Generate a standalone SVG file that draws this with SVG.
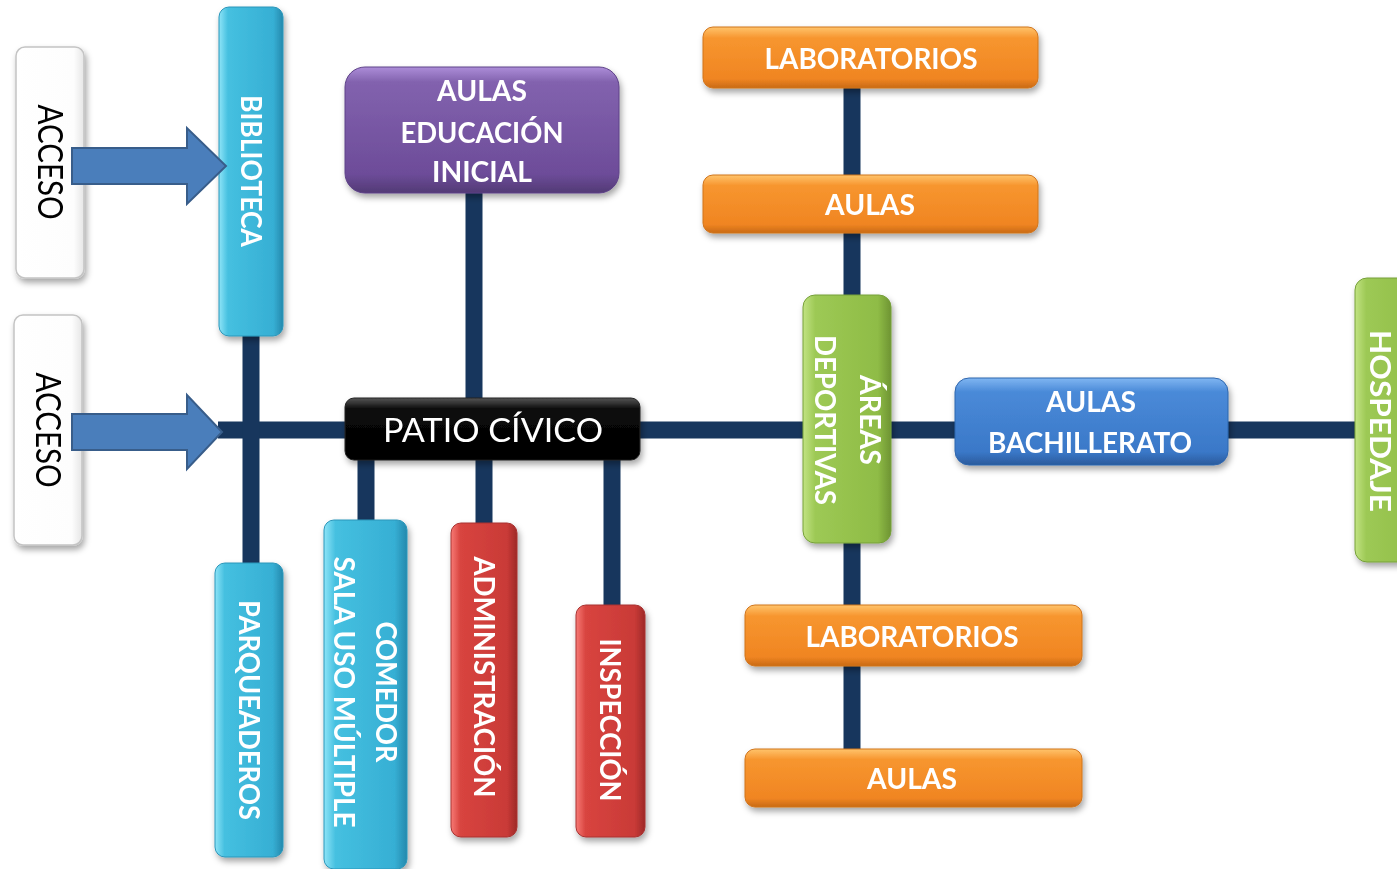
<svg xmlns="http://www.w3.org/2000/svg" width="1397" height="869" viewBox="0 0 1397 869">
<defs>
  <filter id="sh" x="-20%" y="-20%" width="140%" height="140%">
    <feDropShadow dx="2" dy="4" stdDeviation="3" flood-color="#000" flood-opacity="0.35"/>
  </filter>
  <linearGradient id="gCyan" x1="0" y1="0" x2="1" y2="0">
    <stop offset="0" stop-color="#8ee4f7"/>
    <stop offset="0.14" stop-color="#45c0e0"/>
    <stop offset="0.85" stop-color="#36afd4"/>
    <stop offset="1" stop-color="#2589ad"/>
  </linearGradient>
  <linearGradient id="gRed" x1="0" y1="0" x2="1" y2="0">
    <stop offset="0" stop-color="#f77a75"/>
    <stop offset="0.14" stop-color="#d8443f"/>
    <stop offset="0.85" stop-color="#c93a37"/>
    <stop offset="1" stop-color="#9e2a28"/>
  </linearGradient>
  <linearGradient id="gGreen" x1="0" y1="0" x2="1" y2="0">
    <stop offset="0" stop-color="#c2e383"/>
    <stop offset="0.14" stop-color="#9dc955"/>
    <stop offset="0.85" stop-color="#8fbc46"/>
    <stop offset="1" stop-color="#6e9433"/>
  </linearGradient>
  <linearGradient id="gOrange" x1="0" y1="0" x2="0" y2="1">
    <stop offset="0" stop-color="#ffc46c"/>
    <stop offset="0.18" stop-color="#f7962f"/>
    <stop offset="0.85" stop-color="#f08522"/>
    <stop offset="1" stop-color="#c96a15"/>
  </linearGradient>
  <linearGradient id="gBlue" x1="0" y1="0" x2="0" y2="1">
    <stop offset="0" stop-color="#80b6f2"/>
    <stop offset="0.16" stop-color="#4a8ad8"/>
    <stop offset="0.85" stop-color="#3a78c8"/>
    <stop offset="1" stop-color="#2a5a9c"/>
  </linearGradient>
  <linearGradient id="gPurple" x1="0" y1="0" x2="0" y2="1">
    <stop offset="0" stop-color="#ac8dd8"/>
    <stop offset="0.12" stop-color="#8262ae"/>
    <stop offset="0.85" stop-color="#6d4c99"/>
    <stop offset="1" stop-color="#523a75"/>
  </linearGradient>
  <linearGradient id="gBlack" x1="0" y1="0" x2="0" y2="1">
    <stop offset="0" stop-color="#555"/>
    <stop offset="0.18" stop-color="#0a0a0a"/>
    <stop offset="1" stop-color="#000"/>
  </linearGradient>
  <linearGradient id="gWhite" x1="0" y1="0" x2="1" y2="0">
    <stop offset="0" stop-color="#ffffff"/>
    <stop offset="0.85" stop-color="#fdfdfd"/>
    <stop offset="1" stop-color="#e6e6e6"/>
  </linearGradient>
</defs>
<style>
  .box { filter: url(#sh); }
  .cyan { fill: url(#gCyan); stroke: #2a96ba; stroke-width: 1; }
  .red { fill: url(#gRed); stroke: #a83230; stroke-width: 1; }
  .green { fill: url(#gGreen); stroke: #76a03a; stroke-width: 1; }
  .orange { fill: url(#gOrange); stroke: #d0741c; stroke-width: 1; }
  .blue { fill: url(#gBlue); stroke: #2f66ad; stroke-width: 1; }
  .purple { fill: url(#gPurple); stroke: #5e4288; stroke-width: 1; }
  .black { fill: url(#gBlack); stroke: #222; stroke-width: 1; }
  .white { fill: url(#gWhite); stroke: #c4c4c4; stroke-width: 1.5; }
  .lbl { font-family: Lato, "Open Sans", "Liberation Sans", sans-serif; font-weight: 700; font-size: 28px; fill: #ffffff; text-anchor: middle; }
  .reg { font-family: Lato, "Open Sans", "Liberation Sans", sans-serif; font-weight: 400; text-anchor: middle; }
  .conn { stroke: #17365d; stroke-width: 17; fill: none; }
  .arrow { fill: #4a7ebb; stroke: #385d8a; stroke-width: 2; }
</style>

<g id="connectors">
  <line class="conn" x1="218" y1="430" x2="1362" y2="430"/>
  <line class="conn" x1="251" y1="330" x2="251" y2="570"/>
  <line class="conn" x1="474" y1="188" x2="474" y2="402"/>
  <line class="conn" x1="366" y1="455" x2="366" y2="525"/>
  <line class="conn" x1="484" y1="455" x2="484" y2="528"/>
  <line class="conn" x1="612" y1="455" x2="612" y2="610"/>
  <line class="conn" x1="852" y1="84" x2="852" y2="754"/>
</g>

<g id="acceso1" class="box">
  <rect class="white" x="16" y="47" width="68" height="231" rx="9"/>
  <text class="reg" font-size="34" fill="#000" transform="translate(50,162) rotate(90)" x="0" y="12" textLength="115" lengthAdjust="spacingAndGlyphs">ACCESO</text>
</g>
<g id="acceso2" class="box">
  <rect class="white" x="14" y="315" width="68" height="230" rx="9"/>
  <text class="reg" font-size="34" fill="#000" transform="translate(48,430) rotate(90)" x="0" y="12" textLength="115" lengthAdjust="spacingAndGlyphs">ACCESO</text>
</g>

<g id="biblioteca" class="box">
  <rect class="cyan" x="219" y="7" width="64" height="329" rx="10"/>
  <text class="lbl" transform="translate(251,171) rotate(90)" x="0" y="10" textLength="152" lengthAdjust="spacingAndGlyphs">BIBLIOTECA</text>
</g>

<g id="parqueaderos" class="box">
  <rect class="cyan" x="215" y="563" width="68" height="294" rx="10"/>
  <text class="lbl" transform="translate(249,710) rotate(90)" x="0" y="10" textLength="220" lengthAdjust="spacingAndGlyphs">PARQUEADEROS</text>
</g>

<g id="comedor" class="box">
  <rect class="cyan" x="324" y="520" width="83" height="349" rx="10"/>
  <text class="lbl" transform="translate(365,692) rotate(90)" x="0" y="-11" textLength="141" lengthAdjust="spacingAndGlyphs">COMEDOR</text>
  <text class="lbl" transform="translate(365,692) rotate(90)" x="0" y="31" textLength="271" lengthAdjust="spacingAndGlyphs">SALA USO MÚLTIPLE</text>
</g>

<g id="administracion" class="box">
  <rect class="red" x="451" y="523" width="66" height="314" rx="10"/>
  <text class="lbl" transform="translate(484,677) rotate(90)" x="0" y="10" textLength="241" lengthAdjust="spacingAndGlyphs">ADMINISTRACIÓN</text>
</g>

<g id="inspeccion" class="box">
  <rect class="red" x="576" y="605" width="69" height="232" rx="10"/>
  <text class="lbl" transform="translate(610,720) rotate(90)" x="0" y="10" textLength="163" lengthAdjust="spacingAndGlyphs">INSPECCIÓN</text>
</g>

<g id="aulas-inicial" class="box">
  <rect class="purple" x="345" y="67" width="274" height="126" rx="20"/>
  <text class="lbl" x="482" y="101" textLength="90" lengthAdjust="spacingAndGlyphs">AULAS</text>
  <text class="lbl" x="482" y="143" textLength="163" lengthAdjust="spacingAndGlyphs">EDUCACIÓN</text>
  <text class="lbl" x="482" y="182" textLength="100" lengthAdjust="spacingAndGlyphs">INICIAL</text>
</g>

<g id="patio-civico" class="box">
  <rect class="black" x="345" y="398" width="295" height="62" rx="9"/>
  <text class="reg" font-size="32" fill="#fff" x="493" y="442" textLength="220" lengthAdjust="spacingAndGlyphs">PATIO CÍVICO</text>
</g>

<g id="laboratorios-top" class="box">
  <rect class="orange" x="703" y="27" width="335" height="61" rx="10"/>
  <text class="lbl" x="871" y="69" textLength="213" lengthAdjust="spacingAndGlyphs">LABORATORIOS</text>
</g>

<g id="aulas-top" class="box">
  <rect class="orange" x="703" y="175" width="335" height="58" rx="10"/>
  <text class="lbl" x="870" y="215" textLength="90" lengthAdjust="spacingAndGlyphs">AULAS</text>
</g>

<g id="areas-deportivas" class="box">
  <rect class="green" x="803" y="295" width="88" height="248" rx="12"/>
  <text class="lbl" transform="translate(847,420) rotate(90)" x="0" y="-13" textLength="90" lengthAdjust="spacingAndGlyphs">ÁREAS</text>
  <text class="lbl" transform="translate(847,420) rotate(90)" x="0" y="32" textLength="170" lengthAdjust="spacingAndGlyphs">DEPORTIVAS</text>
</g>

<g id="aulas-bachillerato" class="box">
  <rect class="blue" x="955" y="378" width="273" height="87" rx="14"/>
  <text class="lbl" x="1091" y="412" textLength="90" lengthAdjust="spacingAndGlyphs">AULAS</text>
  <text class="lbl" x="1090" y="453" textLength="204" lengthAdjust="spacingAndGlyphs">BACHILLERATO</text>
</g>

<g id="hospedaje" class="box">
  <rect class="green" x="1355" y="278" width="80" height="284" rx="12"/>
  <text class="lbl" transform="translate(1380,421) rotate(90)" x="0" y="10" textLength="182" lengthAdjust="spacingAndGlyphs">HOSPEDAJE</text>
</g>

<g id="laboratorios-bottom" class="box">
  <rect class="orange" x="745" y="605" width="337" height="61" rx="10"/>
  <text class="lbl" x="912" y="647" textLength="213" lengthAdjust="spacingAndGlyphs">LABORATORIOS</text>
</g>

<g id="aulas-bottom" class="box">
  <rect class="orange" x="745" y="749" width="337" height="58" rx="10"/>
  <text class="lbl" x="912" y="789" textLength="90" lengthAdjust="spacingAndGlyphs">AULAS</text>
</g>

<g id="arrows">
  <polygon class="arrow" points="72,148 187,148 187,128 226,166 187,204 187,184 72,184"/>
  <polygon class="arrow" points="72,414 187,414 187,395 222,432 187,469 187,450 72,450"/>
</g>
</svg>
